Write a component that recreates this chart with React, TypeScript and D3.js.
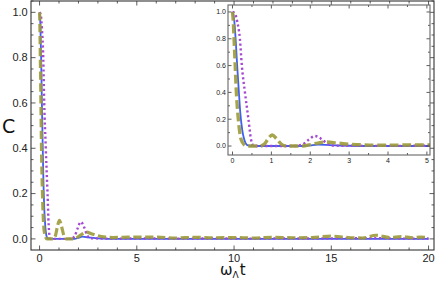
import React from "react";
import * as d3 from "d3";

type P = [number, number];

const blueSeries: P[] = [
  [0, 1.0], [0.04, 0.95], [0.08, 0.8], [0.12, 0.6], [0.16, 0.42], [0.2, 0.25],
  [0.25, 0.12], [0.3, 0.05], [0.35, 0.015], [0.4, 0.004], [0.5, 0.0], [1.0, 0.0],
  [1.8, 0.0], [2.0, 0.005], [2.2, 0.01], [2.5, 0.007], [3.0, 0.002], [3.5, 0.0],
  [5, 0.0], [10, 0.0], [15, 0.0], [20, 0.0],
];

const purpleSeries: P[] = [
  [0, 1.0], [0.06, 0.99], [0.12, 0.93], [0.19, 0.8], [0.24, 0.6], [0.32, 0.4],
  [0.41, 0.2], [0.47, 0.06], [0.53, 0.005], [0.6, 0.0], [1.0, 0.0], [1.6, 0.0],
  [1.8, 0.012], [1.95, 0.045], [2.12, 0.075], [2.3, 0.05], [2.45, 0.015], [2.6, 0.003],
  [3.0, 0.002], [4.0, 0.001], [5, 0.002], [7, 0.001], [9, 0.002], [11, 0.001],
  [13, 0.002], [15, 0.002], [17, 0.003], [19, 0.001], [20, 0.002],
];

const oliveSeries: P[] = [
  [0, 1.0], [0.02, 0.93], [0.04, 0.8], [0.07, 0.6], [0.1, 0.4], [0.15, 0.2],
  [0.22, 0.05], [0.3, 0.01], [0.38, 0.0], [0.7, 0.0], [0.82, 0.015], [0.92, 0.055],
  [1.02, 0.082], [1.13, 0.055], [1.25, 0.015], [1.38, 0.0], [1.8, 0.0], [2.0, 0.01],
  [2.2, 0.022], [2.4, 0.03], [2.7, 0.022], [3.0, 0.014], [3.4, 0.008], [3.8, 0.006],
  [4.3, 0.007], [5, 0.008], [6, 0.008], [7, 0.004], [8, 0.007], [9, 0.005],
  [10, 0.006], [11, 0.004], [12, 0.007], [13, 0.005], [14, 0.006], [15, 0.012],
  [16, 0.005], [16.6, 0.004], [17.3, 0.016], [18, 0.006], [18.6, 0.01], [19.2, 0.005],
  [19.6, 0.008], [20, 0.006],
];

const mainXTicks = [0, 5, 10, 15, 20];
const mainYTicks = [0, 0.2, 0.4, 0.6, 0.8, 1.0];
const insetXTicks = [0, 1, 2, 3, 4, 5];
const insetYTicks = [0, 0.2, 0.4, 0.6, 0.8, 1.0];

const COLORS = { blue: "#3f5ff2", purple: "#a548d2", olive: "#9c9a3a" };
const AX = "#333";
const FONT = "'Liberation Sans', Arial, sans-serif";

function Panel(props: {
  id: string;
  x0: number; x1: number; y0: number; y1: number;
  xDom: [number, number]; yDom: [number, number];
  xTicks: number[]; yTicks: number[];
  xMinorStep: number; yMinorStep: number;
  fontSize: number; majorLen: number; minorLen: number;
  fmtX: (v: number) => string; fmtY: (v: number) => string;
  frameColor: string; widths: number[];
}) {
  const p = props;
  const x = d3.scaleLinear().domain(p.xDom).range([p.x0, p.x1]);
  const y = d3.scaleLinear().domain(p.yDom).range([p.y1, p.y0]);
  const line = d3.line<P>().x((d) => x(d[0])).y((d) => y(d[1])).curve(d3.curveMonotoneX);
  const xMinor = d3.range(Math.ceil(p.xDom[0] / p.xMinorStep) * p.xMinorStep, p.xDom[1] + 1e-9, p.xMinorStep)
    .filter((v) => !p.xTicks.some((t) => Math.abs(t - v) < 1e-6));
  const yMinor = d3.range(Math.ceil(p.yDom[0] / p.yMinorStep) * p.yMinorStep, p.yDom[1] + 1e-9, p.yMinorStep)
    .filter((v) => !p.yTicks.some((t) => Math.abs(t - v) < 1e-6));
  const [bw, pw, ow] = p.widths;
  return (
    <g>
      <defs>
        <clipPath id={p.id}>
          <rect x={p.x0} y={p.y0} width={p.x1 - p.x0} height={p.y1 - p.y0} />
        </clipPath>
      </defs>
      <rect x={p.x0} y={p.y0} width={p.x1 - p.x0} height={p.y1 - p.y0} fill="#fff" />
      <g clipPath={`url(#${p.id})`} fill="none">
        <path d={line(blueSeries) || ""} stroke={COLORS.blue} strokeWidth={bw} />
        <path d={line(purpleSeries) || ""} stroke={COLORS.purple} strokeWidth={pw} strokeDasharray={`${pw * 0.9},${pw * 1.1}`} />
        <path d={line(oliveSeries) || ""} stroke={COLORS.olive} strokeWidth={ow} strokeDasharray={`${ow * 2.6},${ow * 1.1}`} opacity={0.9} />
      </g>
      <g stroke={AX} strokeWidth={0.8}>
        {p.xTicks.map((t) => (
          <g key={"xt" + t}>
            <line x1={x(t)} x2={x(t)} y1={p.y1} y2={p.y1 - p.majorLen} />
            <line x1={x(t)} x2={x(t)} y1={p.y0} y2={p.y0 + p.majorLen} />
          </g>
        ))}
        {xMinor.map((t) => (
          <g key={"xm" + t}>
            <line x1={x(t)} x2={x(t)} y1={p.y1} y2={p.y1 - p.minorLen} />
            <line x1={x(t)} x2={x(t)} y1={p.y0} y2={p.y0 + p.minorLen} />
          </g>
        ))}
        {p.yTicks.map((t) => (
          <g key={"yt" + t}>
            <line x1={p.x0} x2={p.x0 + p.majorLen} y1={y(t)} y2={y(t)} />
            <line x1={p.x1} x2={p.x1 - p.majorLen} y1={y(t)} y2={y(t)} />
          </g>
        ))}
        {yMinor.map((t) => (
          <g key={"ym" + t}>
            <line x1={p.x0} x2={p.x0 + p.minorLen} y1={y(t)} y2={y(t)} />
            <line x1={p.x1} x2={p.x1 - p.minorLen} y1={y(t)} y2={y(t)} />
          </g>
        ))}
      </g>
      <rect x={p.x0} y={p.y0} width={p.x1 - p.x0} height={p.y1 - p.y0} fill="none" stroke={p.frameColor} strokeWidth={1.1} />
      <g fontFamily={FONT} fontSize={p.fontSize} fill="#222">
        {p.xTicks.map((t) => (
          <text key={"xl" + t} x={x(t)} y={p.y1 + p.fontSize * 1.1} textAnchor="middle">{p.fmtX(t)}</text>
        ))}
        {p.yTicks.map((t) => (
          <text key={"yl" + t} x={p.x0 - p.fontSize * 0.3} y={y(t) + p.fontSize * 0.35} textAnchor="end">{p.fmtY(t)}</text>
        ))}
      </g>
    </g>
  );
}

export default function App() {
  return (
    <svg width={436} height={282} style={{ position: "absolute", left: 0, top: 0, background: "#fff" }}>
      <Panel
        id="mainClip"
        x0={31} x1={434} y0={1} y1={250}
        xDom={[-0.44, 20.28]} yDom={[-0.049, 1.05]}
        xTicks={mainXTicks} yTicks={mainYTicks}
        xMinorStep={1} yMinorStep={0.05}
        fontSize={11} majorLen={4.5} minorLen={2.5}
        fmtX={(v) => d3.format("d")(v)} fmtY={(v) => d3.format(".1f")(v)}
        frameColor={AX} widths={[1.8, 2.4, 3.2]}
      />
      <Panel
        id="insetClip"
        x0={228} x1={430} y0={5} y1={155}
        xDom={[-0.116, 5.08]} yDom={[-0.067, 1.052]}
        xTicks={insetXTicks} yTicks={insetYTicks}
        xMinorStep={0.5} yMinorStep={0.1}
        fontSize={7} majorLen={3.5} minorLen={2}
        fmtX={(v) => d3.format("d")(v)} fmtY={(v) => d3.format(".1f")(v)}
        frameColor="#666" widths={[1.8, 2.4, 3.4]}
      />
      <text x={2} y={133} fontFamily="'DejaVu Sans', sans-serif" fontSize={19} fill="#111">C</text>
      <text x={220} y={275} fontFamily="'DejaVu Sans', sans-serif" fontSize={15} fill="#111">
        ω<tspan fontSize={9} dy={3}>Λ</tspan><tspan dy={-3} dx={1}>t</tspan>
      </text>
    </svg>
  );
}
